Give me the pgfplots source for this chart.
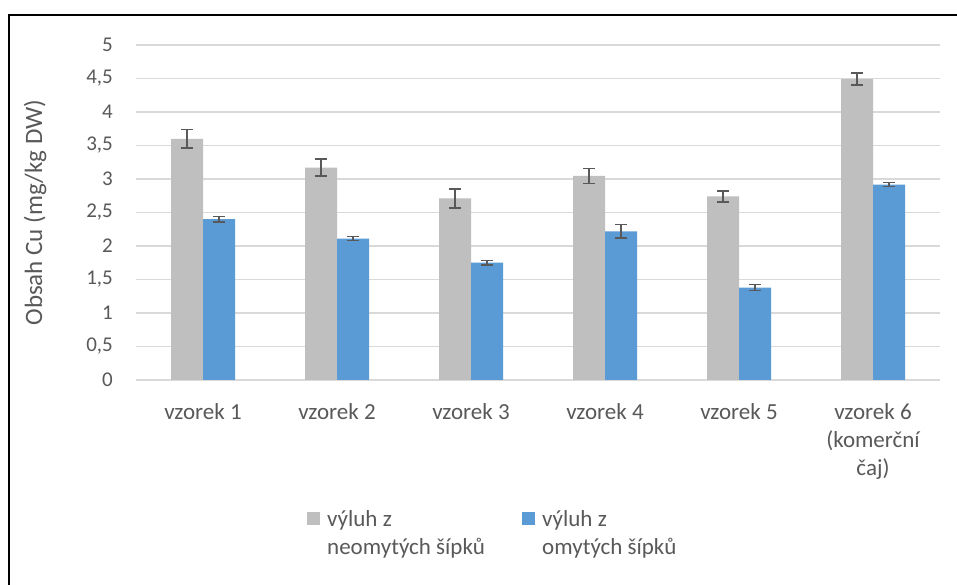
\documentclass[border=0pt]{standalone}
\usepackage{pgfplots}
\pgfplotsset{compat=1.18}
\usepackage{pgfplotstable}
\usepackage{fontspec}
\setmainfont{Carlito}
\definecolor{txt}{HTML}{595959}
\definecolor{grayb}{HTML}{BFBFBF}
\definecolor{blueb}{HTML}{5B9BD5}
\definecolor{gridc}{HTML}{D9D9D9}
\definecolor{errc}{HTML}{595959}

\pgfplotstableread{
x y e
0 3.60 0.14
1 3.17 0.125
2 2.71 0.14
3 3.045 0.11
4 2.74 0.08
5 4.49 0.09
}\neomyte
\pgfplotstableread{
x y e
0 2.40 0.04
1 2.11 0.03
2 1.75 0.03
3 2.22 0.10
4 1.38 0.045
5 2.915 0.03
}\omyte

\begin{document}
\begin{tikzpicture}
\useasboundingbox (0,0) rectangle (957pt,585pt);
\fill[white] (0,0) rectangle (957pt,585pt);
\draw[line width=2pt] (9pt,-2pt) -- (9pt,570pt) -- (960pt,570pt);
\begin{axis}[
  scale only axis, width=804pt, height=335pt,
  at={(136pt,205pt)}, anchor=south west,
  ybar=0pt, bar width=32pt,
  xmin=-0.5, xmax=5.5, ymin=0, ymax=5,
  xtick={0,1,2,3,4,5},
  xticklabels={vzorek 1, vzorek 2, vzorek 3, vzorek 4, vzorek 5, {vzorek 6\\(komerční\\čaj)}},
  ytick={0,0.5,1,1.5,2,2.5,3,3.5,4,4.5,5},
  axis line style={draw=none}, major tick length=0pt,
  ymajorgrids, grid style={gridc, line width=1.5pt},
  /pgf/number format/assume math mode=true,
  /pgf/number format/use comma,
  yticklabel style={/pgf/number format/fixed, text=txt, inner sep=0pt, anchor=east, xshift=-23pt,
    font=\fontsize{21}{24}\selectfont},
  xticklabel style={text=txt, inner sep=0pt, anchor=north, yshift=-23pt, align=center,
    font=\fontsize{23}{28}\selectfont},
  ylabel={Obsah Cu (mg/kg DW)},
  ylabel style={at={(axis description cs:-0.1256,0.5)}, anchor=center, text=txt,
    font=\fontsize{25}{28}\selectfont},
  legend columns=2,
  legend style={at={(axis description cs:0.2127,-0.39)}, anchor=north west, draw=none, fill=none,
    inner sep=0pt, column sep=7pt,
    nodes={inner sep=0pt, text=txt, font=\fontsize{23}{28}\selectfont}},
  legend image code/.code={\fill[#1,draw=none] (0pt,-5pt) rectangle (13pt,8pt);},
  error bars/y dir=both, error bars/y explicit,
  error bars/error bar style={errc, line width=1.5pt},
  error bars/error mark options={errc, rotate=90, line width=1.5pt, mark size=6pt},
]
\addplot[fill=grayb, draw=none] table[x=x, y=y, y error=e] {\neomyte};
\addlegendentry{\parbox[t]{188pt}{výluh z\\neomytých šípků}}
\addplot[fill=blueb, draw=none] table[x=x, y=y, y error=e] {\omyte};
\addlegendentry{\parbox[t]{188pt}{výluh z\\omytých šípků}}
\end{axis}
\end{tikzpicture}
\end{document}
